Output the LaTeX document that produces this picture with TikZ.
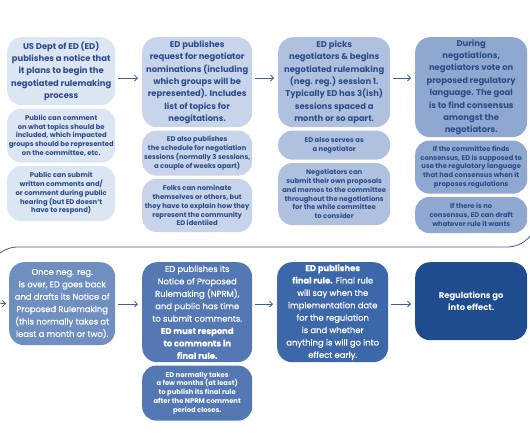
\documentclass[tikz,border=0pt]{standalone}
\usepackage{fontspec}
\setmainfont{Poppins}
\newfontfamily\medfont{Poppins}[FakeBold=0.6]
\usetikzlibrary{arrows.meta, positioning}

\definecolor{inkblue}{HTML}{2B4C8C}
\definecolor{arrowblue}{HTML}{3A5DA0}
\definecolor{colA}{HTML}{DCE5F2}
\definecolor{colB}{HTML}{C7D4E9}
\definecolor{colC}{HTML}{AFC1DE}
\definecolor{colD}{HTML}{8FA8CF}
\definecolor{colE}{HTML}{6F8FC1}
\definecolor{colF}{HTML}{5478B3}
\definecolor{colG}{HTML}{3C67A8}
\definecolor{colH}{HTML}{1F4C8F}

\begin{document}
\begin{tikzpicture}[x=1pt, y=-1pt,
  box/.style={rounded corners=15pt, align=center, inner sep=1pt, text=inkblue, font=\fontsize{8.4}{12.4}\selectfont\bfseries},
  boxw/.style={rounded corners=15pt, align=center, inner sep=1pt, text=white, font=\medfont\fontsize{8.4}{12.4}\selectfont},
  note/.style={rounded corners=14pt, align=center, inner sep=1pt, text=inkblue, font=\fontsize{6.8}{8.8}\selectfont\bfseries},
  flow/.style={-{Straight Barb[length=3pt,width=6pt]}, draw=arrowblue, line width=0.8pt}]
  \useasboundingbox (0,0) rectangle (530,442);
  \clip (0,0) rectangle (530,442);

  % top row
  \node (intent) [box, fill=colA, anchor=north west, minimum width=108pt, minimum height=68pt] at (7,37) {US Dept of ED (ED)\\publishes a notice that\\it plans to begin the\\negotiated rulemaking\\process};
  \node (intentA) [note, fill=colA, minimum width=108pt, minimum height=54pt, below=3pt of intent] {Public can comment\\on what topics should be\\included, which impacted\\groups should be represented\\on the committee, etc.};
  \node (intentB) [note, fill=colA, minimum width=108pt, minimum height=55pt, below=3pt of intentA] {Public can submit\\written comments and/\\or comment during public\\hearing (but ED doesn’t\\have to respond)};

  \node (nominate) [box, fill=colB, anchor=north west, minimum width=110pt, minimum height=90pt] at (142,37) {ED publishes\\request for negotiator\\nominations (including\\which groups will be\\represented). Includes\\list of topics for\\neogitations.};
  \node (nominateA) [note, fill=colB, minimum width=110pt, minimum height=45pt, below=3pt of nominate] {ED also publishes\\the schedule for negotiation\\sessions (normally 3 sessions,\\a couple of weeks apart)};
  \node (nominateB) [note, fill=colB, minimum width=110pt, minimum height=53pt, below=3pt of nominateA] {Folks can nominate\\themselves or others, but\\they have to explain how they\\represent the community\\ED identiied};

  \node (sessions) [box, fill=colC, anchor=north west, minimum width=112pt, minimum height=90pt] at (278,37) {ED picks\\negotiators \& begins\\negotiated rulemaking\\(neg. reg.) session 1.\\Typically ED has 3(ish)\\sessions spaced a\\month or so apart.};
  \node (sessionsA) [note, fill=colC, minimum width=112pt, minimum height=29pt, below=3pt of sessions] {ED also serves as\\a negotiator};
  \node (sessionsB) [note, fill=colC, minimum width=112pt, minimum height=62pt, below=3pt of sessionsA] {Negotiators can\\submit their own proposals\\and memos to the committee\\throughout the negotiations\\for the while committee\\to consider};

  \node (vote) [box, fill=colD, anchor=north west, minimum width=112pt, minimum height=100pt] at (415,37) {During\\negotiations,\\negotiators vote on\\proposed regulatory\\language. The goal\\is to find consensus\\amongst the\\negotiators.};
  \node (voteA) [note, fill=colD, minimum width=112pt, minimum height=53pt, below=3pt of vote] {If the committee finds\\consensus, ED is supposed to\\use the regulatory language\\that had consensus when it\\proposes regulations};
  \node (voteB) [note, fill=colD, minimum width=112pt, minimum height=36pt, below=3pt of voteA] {If there is no\\consensus, ED can draft\\whatever rule it wants};

  % bottom row
  \node (draft) [boxw, fill=colE, anchor=north west, minimum width=106pt, minimum height=83pt] at (9,262) {Once neg. reg.\\is over, ED goes back\\and drafts its Notice of\\Proposed Rulemaking\\(this normally takes at\\least a month or two).};
  \node (nprm) [boxw, fill=colF, anchor=north west, minimum width=110pt, minimum height=100pt] at (142,262) {ED publishes its\\Notice of Proposed\\Rulemaking (NPRM),\\and public has time\\to submit comments.\\\textbf{ED must respond}\\\textbf{to comments in}\\\textbf{final rule.}};
  \node (nprmA) [note, text=white, fill=colF, minimum width=110pt, minimum height=55pt, below=3pt of nprm] {ED normally takes\\a few months (at least)\\to publish its final rule\\after the NPRM comment\\period closes.};
  \node (final) [boxw, fill=colG, anchor=north west, minimum width=111pt, minimum height=100pt] at (277,262) {\textbf{ED publishes}\\\textbf{final rule.} Final rule\\will say when the\\implementation date\\for the regulation\\is and whether\\anything is will go into\\effect early.};
  \node (effect) [boxw, fill=colH, anchor=north west, minimum width=112pt, minimum height=78pt, font=\fontsize{8.4}{12.4}\selectfont\bfseries] at (415,262) {Regulations go\\into effect.};

  \draw[flow] ([shift={(3,41)}]intent.north east) -- ([shift={(-4,41)}]nominate.north west);
  \draw[flow] ([shift={(3,41)}]nominate.north east) -- ([shift={(-4,41)}]sessions.north west);
  \draw[flow] ([shift={(3,41)}]sessions.north east) -- ([shift={(-4,41)}]vote.north west);
  \draw[flow] ([shift={(3,41)}]vote.north east) -- ++(7,0) -- (537,217)
    to[out=-90, in=0] (507,247) -- (18,247) to[out=180, in=90] (-12,277)
    -- (-12,290) to[out=-90, in=180] ([xshift=-3pt]draft.west);

  \draw[flow] ([shift={(3,42)}]draft.north east) -- ([shift={(-4,42)}]nprm.north west);
  \draw[flow] ([shift={(3,42)}]nprm.north east) -- ([shift={(-4,42)}]final.north west);
  \draw[flow] ([shift={(3,42)}]final.north east) -- ([shift={(-4,42)}]effect.north west);
\end{tikzpicture}
\end{document}
